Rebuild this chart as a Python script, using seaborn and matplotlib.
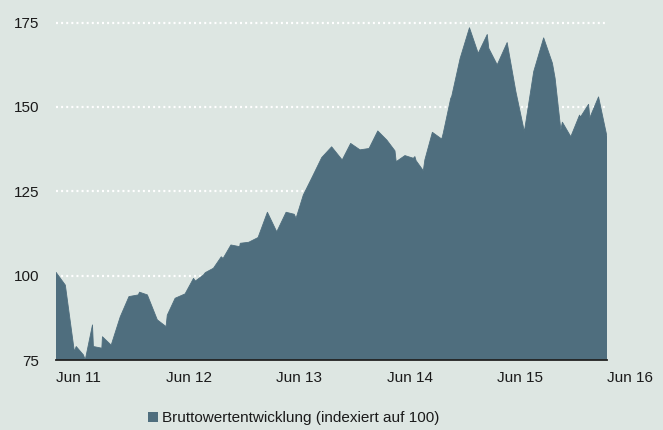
import matplotlib
matplotlib.use("Agg")
import matplotlib.pyplot as plt
from matplotlib.patches import Patch
import seaborn as sns
import pandas as pd

# ---- data ----
dates = [
    "2011-06-01", "2011-07-02", "2011-07-29", "2011-08-01", "2011-08-07", "2011-08-31",
    "2011-09-06", "2011-09-30", "2011-10-03", "2011-10-31", "2011-11-02", "2011-12-01",
    "2011-12-31", "2012-01-29", "2012-02-29", "2012-03-04", "2012-03-30", "2012-05-02",
    "2012-05-31", "2012-06-04", "2012-06-30", "2012-08-02", "2012-08-30", "2012-09-05",
    "2012-10-02", "2012-10-08", "2012-11-04", "2012-11-30", "2012-12-06", "2013-01-01",
    "2013-01-30", "2013-02-01", "2013-03-01", "2013-04-01", "2013-05-02", "2013-06-02",
    "2013-07-03", "2013-07-30", "2013-08-05", "2013-08-29", "2013-09-28", "2013-10-29",
    "2013-12-01", "2014-01-05", "2014-02-02", "2014-03-05", "2014-04-04", "2014-05-03",
    "2014-06-02", "2014-06-29", "2014-07-03", "2014-08-01", "2014-08-29", "2014-09-03",
    "2014-09-07", "2014-10-01", "2014-10-06", "2014-10-31", "2014-12-01", "2014-12-06",
    "2014-12-31", "2015-01-03", "2015-01-31", "2015-03-03", "2015-04-01", "2015-05-01",
    "2015-05-06", "2015-06-03", "2015-07-06", "2015-08-04", "2015-09-01", "2015-10-02",
    "2015-11-04", "2015-12-03", "2015-12-12", "2015-12-31", "2016-01-05", "2016-02-02",
    "2016-03-02", "2016-03-05", "2016-04-01", "2016-04-05", "2016-05-04", "2016-06-01",
]
values = [
    101.0, 97.2, 79.4, 77.5, 79.0, 76.5,
    75.0, 85.4, 79.0, 78.5, 81.9, 79.4,
    87.8, 93.8, 94.3, 95.1, 94.3, 86.9,
    84.9, 88.3, 93.3, 94.6, 99.2, 98.4,
    100.2, 100.9, 102.2, 105.6, 105.1, 109.1,
    108.6, 109.6, 109.9, 111.3, 118.8, 113.0,
    118.8, 118.2, 117.0, 123.9, 129.3, 135.0,
    138.2, 134.3, 139.2, 137.3, 137.7, 142.9,
    140.2, 137.0, 133.8, 135.6, 134.8, 135.3,
    134.1, 131.1, 134.3, 142.5, 140.5, 142.2,
    152.6, 153.1, 164.4, 173.5, 165.9, 171.5,
    167.4, 162.5, 169.1, 154.5, 142.7, 160.5,
    170.5, 163.0, 158.5, 143.2, 145.5, 141.2,
    147.6, 147.0, 150.8, 146.8, 153.0, 141.2,
]
series_label = "Bruttowertentwicklung (indexiert auf 100)"
tick_dates = ["2011-06-01", "2012-06-01", "2013-06-01", "2014-06-01", "2015-06-01", "2016-06-01"]
tick_labels = ["Jun 11", "Jun 12", "Jun 13", "Jun 14", "Jun 15", "Jun 16"]
y_ticks = [75, 100, 125, 150, 175]
grid_values = [100, 125, 150, 175]

# ---- style ----
BG = "#DDE6E2"
AREA = "#4F6E7E"
TXT = "#1A1A1A"
FS = 11

sns.set_style("white", {"axes.facecolor": BG, "figure.facecolor": BG})
plt.rcParams["font.family"] = ["Liberation Sans Narrow", "Liberation Sans", "DejaVu Sans"]

df = pd.DataFrame({"date": pd.to_datetime(dates), "value": values})

fig = plt.figure(figsize=(6.63, 4.30), dpi=100)
ax = fig.add_axes([56 / 663, 70 / 430, 551 / 663, 354.2 / 430])
ax.set_facecolor(BG)

for g in grid_values:
    ax.axhline(g, color="white", lw=1.6, ls=(0, (0.9, 1.4)), zorder=0.5)

ax.fill_between(df["date"], df["value"], 0, color=AREA, lw=0, zorder=1)
sns.lineplot(data=df, x="date", y="value", color=AREA, lw=0.6, ax=ax, zorder=2, legend=False)

ax.set_xlim(pd.Timestamp(tick_dates[0]), pd.Timestamp(tick_dates[-1]))
ax.set_ylim(75, 180)
ax.set_xlabel("")
ax.set_ylabel("")

ax.set_xticks(pd.to_datetime(tick_dates))
ax.set_xticklabels(tick_labels, ha="left")
ax.set_yticks(y_ticks)
ax.set_yticklabels([str(v) for v in y_ticks])

for s in ["left", "top", "right"]:
    ax.spines[s].set_visible(False)
ax.spines["bottom"].set_color("#222222")
ax.spines["bottom"].set_linewidth(1.3)
ax.spines["bottom"].set_zorder(5)

ax.tick_params(axis="x", length=4, width=1, color="#222222", pad=4, labelsize=FS, labelcolor=TXT, direction="out")
ax.tick_params(axis="y", length=0, pad=12, labelsize=FS, labelcolor=TXT)

fig.legend(handles=[Patch(facecolor=AREA, edgecolor="none", label=series_label)],
           loc="center left", bbox_to_anchor=(148 / 663, 1 - 418 / 430),
           frameon=False, borderpad=0, borderaxespad=0,
           handlelength=0.65, handleheight=0.65, handletextpad=0.25,
           fontsize=FS, labelcolor=TXT)

fig.savefig("out.png", dpi=100, facecolor=BG)
